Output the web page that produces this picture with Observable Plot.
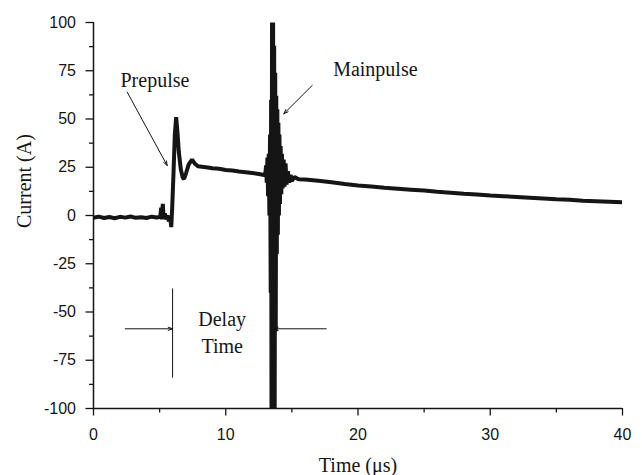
<!DOCTYPE html>
<html><head><meta charset="utf-8">
<script src="https://cdn.jsdelivr.net/npm/d3@7"></script>
<script src="https://cdn.jsdelivr.net/npm/@observablehq/plot@0.6"></script>
<style>body{margin:0;background:#fff} #chart svg{display:block}</style>
</head><body><div id="chart"></div>
<script>
// Time (µs)
const time = [
  0, 0.4, 0.8, 1.2, 1.6, 2.0, 2.4, 2.8, 3.2, 3.6, 4.0, 4.4, 4.8, 5.0,
  5.05, 5.12, 5.18, 5.24, 5.3, 5.4, 5.5, 5.6, 5.7, 5.8, 5.88, 5.95,
  6.05, 6.15, 6.25, 6.35, 6.45, 6.6, 6.75, 6.85, 7.0, 7.2, 7.45, 7.65, 7.9,
  8.5, 9.0, 9.5, 10.0, 10.5, 11.0, 11.5, 12.0, 12.5, 12.9,
  13.0, 13.05, 13.1, 13.15, 13.2, 13.25, 13.3, 13.35, 13.4, 13.43, 13.46,
  13.5, 13.54, 13.58, 13.62, 13.66, 13.7, 13.74, 13.78, 13.82, 13.86, 13.9,
  13.94, 13.98, 14.02, 14.06, 14.1, 14.15, 14.2, 14.25, 14.3, 14.38, 14.45,
  14.52, 14.6, 14.7, 14.8, 14.9, 15.0, 15.2, 15.5, 16, 17, 18, 19, 20,
  21, 22, 23, 24, 25, 26, 27, 28, 29, 30, 31, 32, 33, 34, 35, 36, 37, 38, 39, 40
];
// Current (A)
const current = [
  -1.2, -0.6, -1.3, -0.8, -1.4, -0.7, -1.1, -0.5, -1.2, -0.9, -1.3, -0.6, -1.0, -0.8,
  -0.5, 4, -2, 6, -1, 1, -2, 0, -3, -1, -6, 4,
  22, 42, 51, 43, 33, 24, 19.5, 19, 22, 26.5, 29, 27, 25.5,
  25, 24.5, 24.2, 23.6, 23.3, 22.8, 22.4, 22, 21.5, 21,
  22, 26, 17, 30, 10, 32, 0, 42, -40, 60, -100,
  100, -100, 100, -100, 88, -100, 74, -60, 62, -20, 55,
  -10, 48, 0, 42, 6, 36, 11, 32, 14, 29, 15,
  27, 16, 23, 17, 21, 18, 20, 18.8, 18.7, 18, 17.2, 16.3, 15.5,
  15, 14.4, 13.9, 13.4, 12.9, 12.3, 11.8, 11.3, 10.9, 10.4, 10, 9.6, 9.2, 8.8, 8.4, 8.1, 7.7, 7.4, 7.1, 6.8
];
const xTicks = [0, 10, 20, 30, 40];
const xMinorTicks = [5, 15, 25, 35];
const yTicks = [-100, -75, -50, -25, 0, 25, 50, 75, 100];
const yMinorTicks = [-87.5, -62.5, -37.5, -12.5, 12.5, 37.5, 62.5, 87.5];
const xTitle = "Time (μs)";
const yTitle = "Current (A)";

const data = time.map((t, i) => ({t, a: current[i]}));
const ink = "#151515";
const serif = "Liberation Serif";
const sans = "Liberation Sans";

const chart = Plot.plot({
  width: 642, height: 475,
  marginLeft: 93, marginRight: 20, marginTop: 22, marginBottom: 67,
  x: {domain: [0, 40]},
  y: {domain: [-100, 100]},
  style: {background: "#fff", color: ink, overflow: "visible"},
  marks: [
    Plot.line(data, {x: "t", y: "a", stroke: ink, strokeWidth: 4, strokeLinejoin: "miter", clip: true}),
    Plot.ruleX([0], {stroke: ink, strokeWidth: 1.5}),
    Plot.ruleY([-100], {stroke: ink, strokeWidth: 1.5}),
    Plot.axisX({ticks: xTicks, tickSize: 7.5, tickPadding: 12.5, fontSize: 16, fontFamily: sans,
      tickFormat: d => String(d), label: null, strokeWidth: 1.3, strokeOpacity: 1}),
    Plot.axisX({ticks: xMinorTicks, tickSize: 4.5, text: null, label: null, strokeWidth: 1.3, strokeOpacity: 1}),
    Plot.axisY({ticks: yTicks, tickSize: 7.5, tickPadding: 10, fontSize: 16, fontFamily: sans,
      tickFormat: d => String(d), label: null, strokeWidth: 1.3, strokeOpacity: 1}),
    Plot.axisY({ticks: yMinorTicks, tickSize: 4, text: null, label: null, strokeWidth: 1.3, strokeOpacity: 1}),
    Plot.text([xTitle], {frameAnchor: "bottom", dy: 63.5, lineAnchor: "bottom", fontFamily: serif, fontSize: 20, fill: ink}),
    Plot.text([yTitle], {frameAnchor: "left", rotate: -90, dx: -63, dy: 12.5, lineAnchor: "bottom", fontFamily: serif, fontSize: 20, fill: ink}),
    // annotations
    Plot.text([{x: 2.04, y: 66.5, s: "Prepulse"}, {x: 18.12, y: 72.5, s: "Mainpulse"}],
      {x: "x", y: "y", text: "s", textAnchor: "start", lineAnchor: "bottom", fontFamily: serif, fontSize: 20, fill: ink}),
    Plot.text([{x: 9.73, y: -57.5, s: "Delay"}, {x: 9.73, y: -71.1, s: "Time"}],
      {x: "x", y: "y", text: "s", textAnchor: "middle", lineAnchor: "bottom", fontFamily: serif, fontSize: 20, fill: ink}),
    Plot.arrow([
      {x1: 2.55, y1: 63.9, x2: 5.57, y2: 25.9},
      {x1: 16.54, y1: 67.4, x2: 14.39, y2: 52.7},
      {x1: 2.4, y1: -58.7, x2: 5.98, y2: -58.7},
      {x1: 17.6, y1: -58.7, x2: 13.63, y2: -58.7}
    ], {x1: "x1", y1: "y1", x2: "x2", y2: "y2", bend: 0, headLength: 7, headAngle: 40, stroke: ink, strokeWidth: 1}),
    Plot.link([{x1: 5.98, y1: -37.8, x2: 5.98, y2: -84}], {x1: "x1", y1: "y1", x2: "x2", y2: "y2", stroke: ink, strokeWidth: 1})
  ]
});
document.getElementById("chart").append(chart);
</script>
</body></html>
